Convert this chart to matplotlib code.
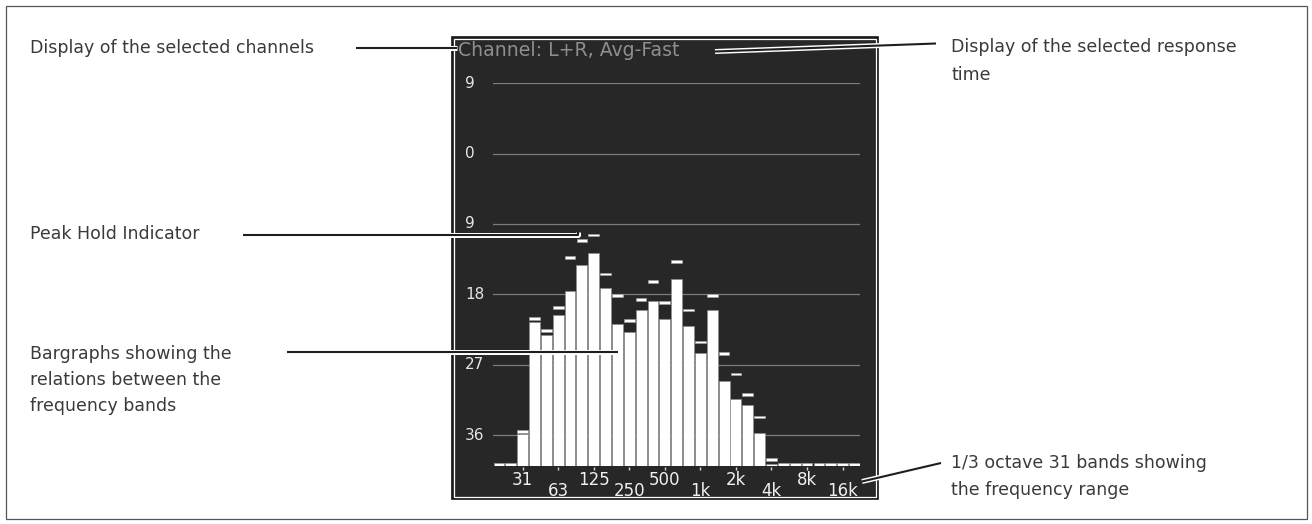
import matplotlib
matplotlib.use("Agg")
import numpy as np
import matplotlib.pyplot as plt
from matplotlib.patches import Rectangle
from matplotlib.transforms import blended_transform_factory
import matplotlib.patheffects as pe

# 1/3-octave band centres (31 bands, 20 Hz .. 20 kHz)
band_names = ["20", "25", "31.5", "40", "50", "63", "80", "100", "125", "160",
              "200", "250", "315", "400", "500", "630", "800", "1k", "1.25k",
              "1.6k", "2k", "2.5k", "3.15k", "4k", "5k", "6.3k", "8k", "10k",
              "12.5k", "16k", "20k"]

# current band levels (dB)
levels = [-40.0, -40.0, -35.9, -21.6, -23.2, -20.7, -17.6, -14.3, -12.7, -17.2,
          -21.8, -22.8, -20.0, -18.9, -21.1, -16.1, -22.0, -25.5, -20.0, -29.1,
          -31.4, -32.2, -35.8, -39.7, -40.0, -40.0, -40.0, -40.0, -40.0, -40.0,
          -40.0]

# peak-hold levels (dB)
peaks = [-39.8, -39.8, -35.5, -21.1, -22.6, -19.7, -13.3, -11.1, -10.4, -15.4,
         -18.2, -21.4, -18.7, -16.4, -19.0, -13.8, -20.0, -24.1, -18.2, -25.6,
         -28.2, -30.8, -33.7, -39.1, -39.8, -39.8, -39.8, -39.8, -39.8, -39.8,
         -39.8]

tick_bands = [2, 5, 8, 11, 14, 17, 20, 23, 26, 29]
tick_labels = ["31", "63", "125", "250", "500", "1k", "2k", "4k", "8k", "16k"]

grid_levels = [9, 0, -9, -18, -27, -36]
grid_labels = ["9", "0", "9", "18", "27", "36"]

floor_db = -40
top_db = 9
channel_text = "Channel: L+R, Avg-Fast"

W, H = 1312, 524
fig = plt.figure(figsize=(W / 100, H / 100), dpi=100)
fig.patch.set_facecolor("white")

# background layer in pixel coordinates
bg = fig.add_axes([0, 0, 1, 1])
bg.set_xlim(0, W)
bg.set_ylim(H, 0)
bg.axis("off")

bg.add_patch(Rectangle((5.5, 5.5), 1301, 513.5, fill=False, ec="#555555", lw=0.9))

# display panel with its thin white inner frame
bg.add_patch(Rectangle((452, 37), 426, 462, fc="#272727", ec="#151515", lw=1.2))
bg.add_patch(Rectangle((454.3, 39.3), 421.4, 457.4, fill=False, ec="white", lw=0.9))

bg.text(458, 50, channel_text, color="#8e8e8e", fontsize=13.6,
        ha="left", va="center")

# spectrum axes
x0, x1 = 493.0, 860.35
y_top = 83.3
px_per_db = 7.816
y_bot = y_top + (top_db - floor_db) * px_per_db
ax = fig.add_axes([x0 / W, 1 - y_bot / H, (x1 - x0) / W, (y_bot - y_top) / H])
ax.set_xlim(-0.5, 30.5)
ax.set_ylim(floor_db, top_db)
ax.axis("off")
ax.patch.set_alpha(0)

for g in grid_levels:
    ax.axhline(g, color="#7d7d7d", lw=0.9, zorder=1)

idx = np.arange(len(band_names))
lv = np.array(levels)
pk = np.array(peaks)
ax.bar(idx, lv - floor_db, bottom=floor_db, width=0.92, color="white",
       edgecolor="#8c8c8c", lw=0.5, zorder=3)
ax.bar(idx, 0.36, bottom=pk - 0.18, width=0.9, color="white",
       edgecolor="#9a9a9a", lw=0.5, zorder=4)

ax.vlines(tick_bands, floor_db - 0.5, floor_db - 0.08, color="#d8d8d8",
          lw=1, clip_on=False)

tx = blended_transform_factory(ax.transData, bg.transData)
for k, (b, lab) in enumerate(zip(tick_bands, tick_labels)):
    ypx = 480 if k % 2 == 0 else 490.5
    ax.text(b, ypx, lab, transform=tx, ha="center", va="center",
            color="#f0f0f0", fontsize=12, clip_on=False)

ty = blended_transform_factory(bg.transData, ax.transData)
for g, lab in zip(grid_levels, grid_labels):
    ax.text(465, g, lab, transform=ty, ha="left", va="center",
            color="#e6e6e6", fontsize=11, clip_on=False)

# callouts on top
top = fig.add_axes([0, 0, 1, 1])
top.set_xlim(0, W)
top.set_ylim(H, 0)
top.axis("off")
top.patch.set_alpha(0)

leader_fx = [pe.Stroke(linewidth=3.6, foreground="white"), pe.Normal()]
leaders = [
    [(356, 48), (457, 48)],
    [(936, 43.5), (715, 51.5)],
    [(243, 235), (578, 235), (578, 231.5)],
    [(287, 351.5), (618, 351.5)],
    [(941, 463), (862, 481.5)],
]
for pts in leaders:
    xs, ys = zip(*pts)
    top.plot(xs, ys, color="#1e1e1e", lw=1.5, solid_capstyle="butt",
             path_effects=leader_fx)

note_style = dict(color="#3a3a3a", fontsize=12.5, ha="left", va="center")
callouts = [
    (30, [(48, "Display of the selected channels")]),
    (30, [(234, "Peak Hold Indicator")]),
    (30, [(354, "Bargraphs showing the"), (380, "relations between the"),
          (406, "frequency bands")]),
    (951, [(46.7, "Display of the selected response"), (75, "time")]),
    (951, [(462.7, "1/3 octave 31 bands showing"), (490, "the frequency range")]),
]
for xl, rows in callouts:
    for yl, s in rows:
        top.text(xl, yl, s, **note_style)

fig.savefig("out.png", dpi=100)
